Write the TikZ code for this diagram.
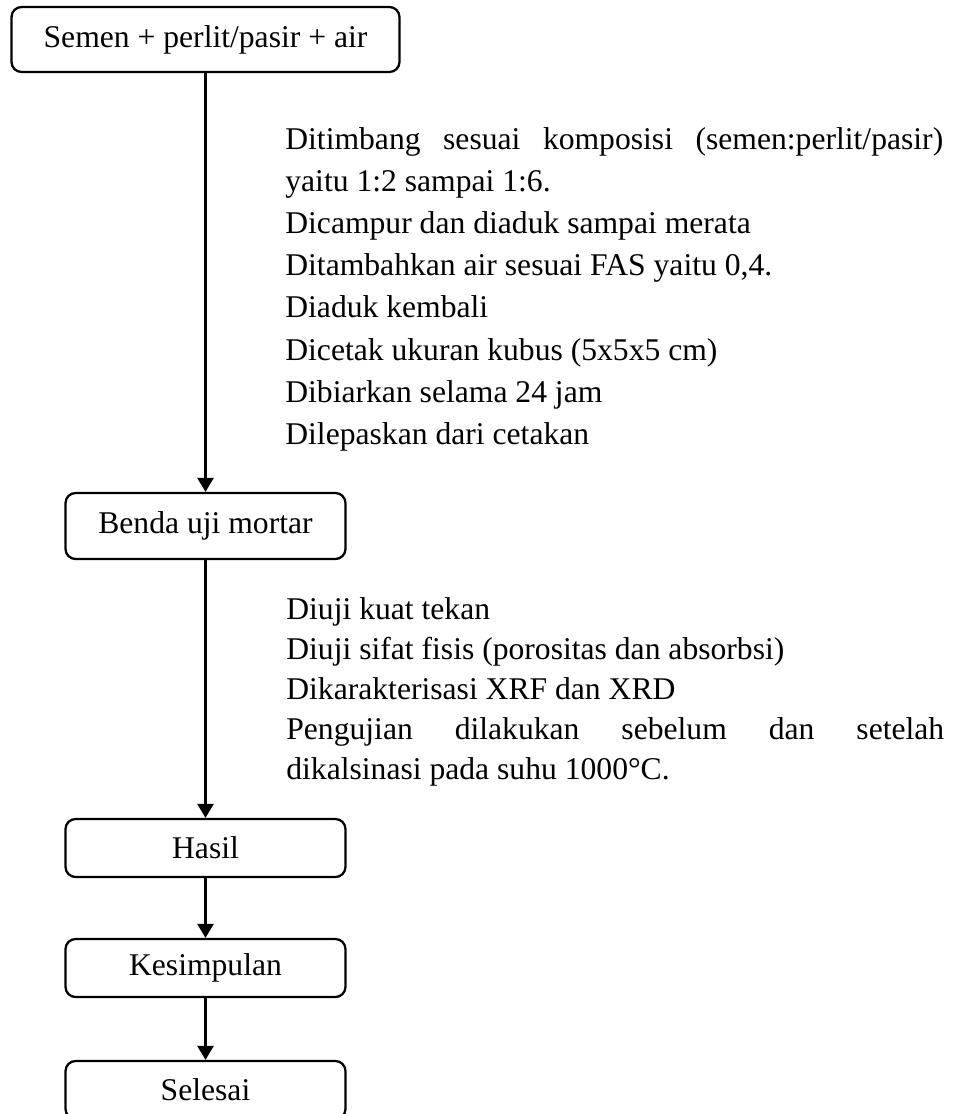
\documentclass[tikz,border=0pt]{standalone}
\usepackage{fontspec}
\setmainfont{Liberation Serif}
\usetikzlibrary{arrows.meta}

\begin{document}
\begin{tikzpicture}[
    x=0.02cm, y=-0.02cm,
    tulisan/.style={font=\fontsize{18}{24}\selectfont},
    kotak/.style={tulisan, draw, line width=1.3pt, rounded corners=2mm,
        minimum width=5.6cm, minimum height=1.16cm},
    ket/.style={tulisan, anchor=north west, inner sep=0pt,
        text width=13.16cm, align=justify},
    panah/.style={-{Triangle[length=2.8mm,width=3.2mm]}, line width=1.4pt}
]
\useasboundingbox (0, 0) rectangle (952, 1114);

% kotak alur
\node[kotak, minimum width=7.76cm, minimum height=1.3cm] (bahan) at (205.5, 39.5) {Semen + perlit/pasir + air};
\node[kotak, minimum height=1.32cm] (benda) at (205.5, 526) {Benda uji mortar};
\node[kotak] (hasil) at (205.5, 848) {Hasil};
\node[kotak] (simpulan) at (205.5, 968) {Kesimpulan};
\node[kotak] (selesai) at (205.5, 1090) {Selesai};

% keterangan tiap tahap
\node[ket] (buat) at (285, 127) {Ditimbang sesuai komposisi (semen:perlit/pasir)\linebreak
    yaitu 1:2 sampai 1:6.\\
    Dicampur dan diaduk sampai merata\\
    Ditambahkan air sesuai FAS yaitu 0,4.\\
    Diaduk kembali\\
    Dicetak ukuran kubus (5x5x5 cm)\\
    Dibiarkan selama 24 jam\\
    Dilepaskan dari cetakan};
\node[ket, font=\fontsize{18}{22.8}\selectfont] (uji) at (286, 597) {Diuji kuat tekan\\
    Diuji sifat fisis (porositas dan absorbsi)\\
    Dikarakterisasi XRF dan XRD\\
    Pengujian dilakukan sebelum dan setelah\linebreak
    dikalsinasi pada suhu 1000°C.};

\draw[panah] (bahan.south) -- (benda.north);
\draw[panah] (benda.south) -- (hasil.north);
\draw[panah] (hasil.south) -- (simpulan.north);
\draw[panah] (simpulan.south) -- (selesai.north);

\end{tikzpicture}
\end{document}
